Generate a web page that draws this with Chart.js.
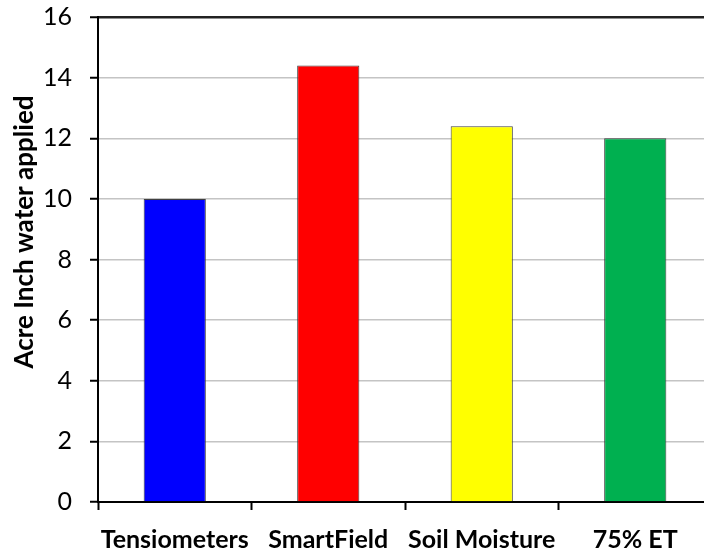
<!DOCTYPE html>
<html>
<head>
<meta charset="utf-8">
<script src="https://cdn.jsdelivr.net/npm/chart.js@4"></script>
<style>
  html, body { margin: 0; padding: 0; background: #fff; overflow: hidden; }
  #wrap { width: 716px; height: 552px; }
</style>
</head>
<body>
<div id="wrap"><canvas id="chart" width="716" height="552"></canvas></div>
<script>
const categories = ['Tensiometers', 'SmartField', 'Soil Moisture', '75% ET'];
const waterApplied = [10, 14.4, 12.4, 12.0];
const barColors = ['#0000ff', '#ff0000', '#ffff00', '#00b050'];
const yTicks = [0, 2, 4, 6, 8, 10, 12, 14, 16];
const yTitle = 'Acre Inch water applied';

const FONT = 'Lato, "Open Sans", sans-serif';

// y title drawn by hand so it can sit a bit above the axis centre like the original
const yTitlePlugin = {
  id: 'yTitle',
  afterDraw(chart) {
    const ctx = chart.ctx;
    ctx.save();
    ctx.translate(25, 232);
    ctx.rotate(-Math.PI / 2);
    ctx.font = 'bold 26px ' + FONT;
    ctx.fillStyle = '#000';
    ctx.textAlign = 'center';
    ctx.textBaseline = 'middle';
    ctx.fillText(yTitle, 0, 0);
    ctx.restore();
  }
};

new Chart(document.getElementById('chart').getContext('2d'), {
  type: 'bar',
  data: {
    labels: categories,
    datasets: [{
      data: waterApplied,
      backgroundColor: barColors,
      borderColor: '#404040',
      borderWidth: 1,
      barPercentage: 0.405,
      categoryPercentage: 1
    }]
  },
  options: {
    responsive: false,
    animation: false,
    layout: { padding: { top: 17, right: 4, left: 0, bottom: 0 } },
    plugins: { legend: { display: false }, tooltip: { enabled: false } },
    scales: {
      x: {
        afterFit: (s) => { s.height = 50; s.paddingLeft = 0; s.paddingRight = 0; },
        grid: { offset: true, drawOnChartArea: false, tickLength: 8, tickColor: '#000', tickWidth: 2 },
        border: { color: '#000', width: 2 },
        ticks: {
          color: '#000', padding: 15, maxRotation: 0, minRotation: 0, autoSkip: false,
          font: { family: FONT, size: 25, weight: 'bold' }
        }
      },
      y: {
        min: 0, max: 16,
        afterFit: (s) => { s.width = 98; s.paddingTop = 0; s.paddingBottom = 0; },
        afterBuildTicks: (s) => { s.ticks = yTicks.map(v => ({ value: v })); },
        grid: {
          color: (c) => c.tick && c.tick.value === 16 ? '#222' : '#c4c4c4',
          lineWidth: (c) => c.tick && c.tick.value === 16 ? 2.5 : 1.5,
          tickLength: 8, tickColor: '#000', tickWidth: 2
        },
        border: { color: '#000', width: 2 },
        ticks: { color: '#000', padding: 18, font: { family: FONT, size: 25 } }
      }
    }
  },
  plugins: [yTitlePlugin]
});
</script>
</body>
</html>
